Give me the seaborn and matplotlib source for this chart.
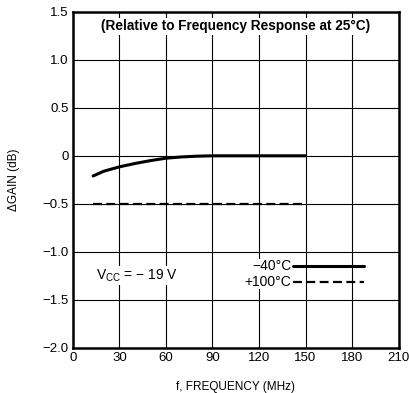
import numpy as np
import pandas as pd
import matplotlib
matplotlib.use("Agg")
import matplotlib.pyplot as plt
import seaborn as sns

# curve values
freq_cold = [13, 20, 30, 40, 50, 60, 70, 80, 90, 120, 150]
gain_cold = [-0.21, -0.16, -0.115, -0.08, -0.05, -0.025, -0.012, -0.004, 0.0, 0.0, 0.0]
freq_hot = [13, 150]
gain_hot = [-0.5, -0.5]

x_ticks = [0, 30, 60, 90, 120, 150, 180, 210]
y_ticks = [-2.0, -1.5, -1.0, -0.5, 0, 0.5, 1.0, 1.5]
y_tick_labels = ["\u22122.0", "\u22121.5", "\u22121.0", "\u22120.5", "0", "0.5", "1.0", "1.5"]

sns.set_style("white")
plt.rcParams['font.family'] = ['Liberation Sans', 'DejaVu Sans']
plt.rcParams['text.color'] = 'black'
plt.rcParams['axes.labelcolor'] = 'black'
plt.rcParams['xtick.color'] = 'black'
plt.rcParams['ytick.color'] = 'black'

df_cold = pd.DataFrame({"f": freq_cold, "gain": gain_cold})
df_hot = pd.DataFrame({"f": freq_hot, "gain": gain_hot})

fig = plt.figure(figsize=(4.1, 3.93), dpi=100)
ax = fig.add_axes([0.178, 0.115, 0.794, 0.855])

sns.lineplot(data=df_cold, x="f", y="gain", color="black", linewidth=2.2, ax=ax)
sns.lineplot(data=df_hot, x="f", y="gain", color="black", linewidth=1.6,
             linestyle=(0, (4, 2)), ax=ax)

ax.set_xlim(0, 210)
ax.set_ylim(-2.0, 1.5)
ax.set_xticks(x_ticks)
ax.set_yticks(y_ticks)
ax.set_yticklabels(y_tick_labels)
ax.tick_params(length=0, labelsize=9.5, pad=3)
ax.grid(True, color="black", linewidth=0.8)
for s in ax.spines.values():
    s.set_linewidth(1.8)
    s.set_color("black")

ax.set_xlabel("f, FREQUENCY (MHz)", fontsize=8.5, labelpad=12)
ax.set_ylabel("\u0394GAIN (dB)", fontsize=8.5, labelpad=16)

ax.text(105, 1.35, "(Relative to Frequency Response at 25\u00b0C)", ha="center", va="center",
        fontsize=9.8, fontweight="bold",
        bbox=dict(facecolor="white", edgecolor="none", pad=1))

ax.text(15, -1.25, "V$_{\\mathregular{CC}}$ = \u2212 19 V", ha="left", va="center", fontsize=10,
        bbox=dict(facecolor="white", edgecolor="none", pad=1))

# legend drawn by hand
ax.text(141, -1.15, "\u221240\u00b0C", ha="right", va="center", fontsize=10,
        bbox=dict(facecolor="white", edgecolor="none", pad=0.5))
ax.text(141, -1.31, "+100\u00b0C", ha="right", va="center", fontsize=10,
        bbox=dict(facecolor="white", edgecolor="none", pad=0.5))
ax.plot([142, 188], [-1.15, -1.15], color="black", linewidth=2.2)
ax.plot([142, 188], [-1.31, -1.31], color="black", linewidth=1.6, linestyle=(0, (4, 2)))

fig.savefig("out.png", dpi=100)
